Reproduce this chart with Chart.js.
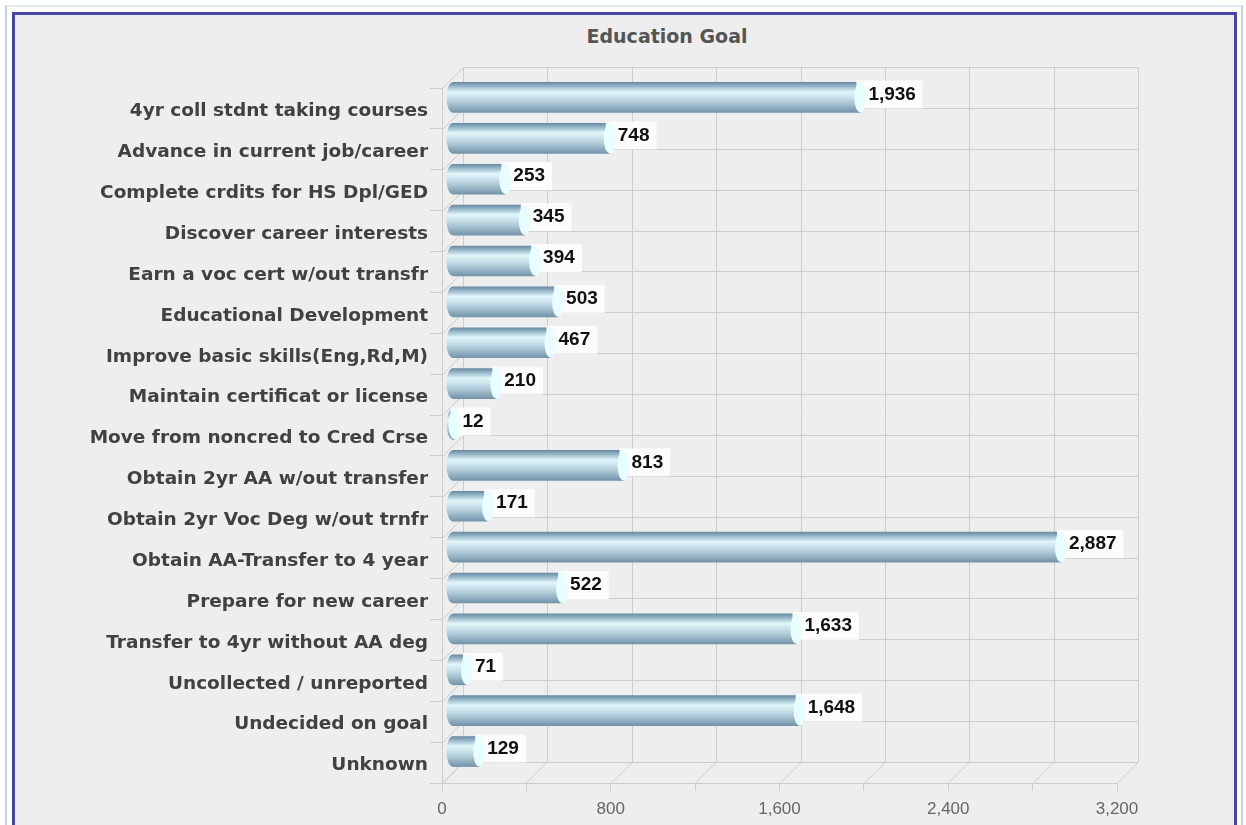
<!DOCTYPE html>
<html lang="en">
<head>
  <meta charset="UTF-8">
  <title>Education Goal</title>
  <script src="https://cdn.jsdelivr.net/npm/chart.js"></script>
  <style>
body {
  margin: 0;
  background-color: #ffffff;
  width: 1246px;
  height: 825px;
  overflow: hidden;
  position: relative;
}

.frame {
  position: absolute;
  left: 5px;
  top: 5px;
  width: 1234px;
  height: 840px;
  border-left: 2px solid #bfd1e8;
  border-top: 2px solid #e1e7ef;
  border-right: 2px solid #bfd1e8;
}

.panel {
  position: absolute;
  left: 12px;
  top: 12px;
  width: 1219px;
  height: 840px;
  border: 3px solid #4747a9;
  background-color: #eeeeee;
}

.title {
  position: absolute;
  left: 467px;
  width: 400px;
  top: 25px;
  text-align: center;
  font-family: "DejaVu Sans", sans-serif;
  font-weight: bold;
  font-size: 19px;
  color: #555555;
}

canvas {
  position: absolute;
  left: 0;
  top: 0;
}
  </style>
</head>
<body>
  <div class="frame"></div>
  <div class="panel"></div>
  <div class="title">Education Goal</div>
  <canvas id="goalChart" width="1246" height="825"></canvas>
  <script>
    var goals = [
      '4yr coll stdnt taking courses',
      'Advance in current job/career',
      'Complete crdits for HS Dpl/GED',
      'Discover career interests',
      'Earn a voc cert w/out transfr',
      'Educational Development',
      'Improve basic skills(Eng,Rd,M)',
      'Maintain certificat or license',
      'Move from noncred to Cred Crse',
      'Obtain 2yr AA w/out transfer',
      'Obtain 2yr Voc Deg w/out trnfr',
      'Obtain AA-Transfer to 4 year',
      'Prepare for new career',
      'Transfer to 4yr without AA deg',
      'Uncollected / unreported',
      'Undecided on goal',
      'Unknown'
    ];
    var students = [1936, 748, 253, 345, 394, 503, 467, 210, 12, 813, 171, 2887, 522, 1633, 71, 1648, 129];
    var axisMax = 3200;
    var axisStep = 400;
    var labelStep = 800;

    // fake 3D depth: back wall offset and bar offset
    var depthX = 21, depthY = -21;
    var barDX = 10, barDY = -11;
    var barSize = 30;
    var gridColor = '#cccccc';

    function barGradient(c) {
      var chart = c.chart;
      if (!chart.chartArea || !chart.scales.y) return '#a9c5d3';
      var yc = chart.scales.y.getPixelForValue(c.dataIndex);
      var g = chart.ctx.createLinearGradient(0, yc - barSize / 2, 0, yc + barSize / 2);
      g.addColorStop(0, '#6a8ba3');
      g.addColorStop(0.12, '#93b3c6');
      g.addColorStop(0.32, '#e0f6fa');
      g.addColorStop(0.5, '#c9e1ea');
      g.addColorStop(0.72, '#a6c2d1');
      g.addColorStop(0.9, '#85a4b8');
      g.addColorStop(1, '#7393aa');
      return g;
    }

    var depthPlugin = {
      id: 'depth',
      beforeDatasetsDraw: function(chart) {
        var ctx = chart.ctx;
        var xs = chart.scales.x;
        var ca = chart.chartArea;
        var band = (ca.bottom - ca.top) / goals.length;
        ctx.save();
        ctx.strokeStyle = gridColor;
        ctx.lineWidth = 1;
        ctx.beginPath();
        // back wall verticals and floor diagonals
        for (var v = 0; v <= axisMax; v += axisStep) {
          var px = Math.round(xs.getPixelForValue(v)) + 0.5;
          ctx.moveTo(px + depthX, ca.top + depthY);
          ctx.lineTo(px + depthX, ca.bottom + depthY);
          ctx.moveTo(px, ca.bottom);
          ctx.lineTo(px + depthX, ca.bottom + depthY);
        }
        // back wall horizontals and left wall diagonals
        var x0 = Math.round(xs.getPixelForValue(0)) + 0.5;
        var x1 = Math.round(xs.getPixelForValue(axisMax)) + 0.5;
        for (var i = 0; i <= goals.length; i++) {
          var py = Math.round(ca.top + band * i) + 0.5;
          ctx.moveTo(x0 + depthX, py + depthY);
          ctx.lineTo(x1 + depthX, py + depthY);
          ctx.moveTo(x0, py);
          ctx.lineTo(x0 + depthX, py + depthY);
        }
        ctx.stroke();
        ctx.restore();

        ctx.save();
        ctx.translate(barDX, barDY);
        // rounded start of each cylinder
        var meta = chart.getDatasetMeta(0);
        meta.data.forEach(function(bar, idx) {
          var p = bar.getProps(['x', 'y', 'base', 'height'], true);
          ctx.beginPath();
          ctx.ellipse(p.base, p.y, 6, p.height / 2, 0, 0, Math.PI * 2);
          ctx.fillStyle = barGradient({ chart: chart, dataIndex: idx });
          ctx.fill();
        });
      },
      afterDatasetsDraw: function(chart) {
        var ctx = chart.ctx;
        var meta = chart.getDatasetMeta(0);
        ctx.font = 'bold 19px "Liberation Sans", Arial, sans-serif';
        ctx.textBaseline = 'middle';
        ctx.textAlign = 'left';
        meta.data.forEach(function(bar, idx) {
          var p = bar.getProps(['x', 'y', 'base', 'height'], true);
          var txt = students[idx].toLocaleString('en-US');
          var tw = ctx.measureText(txt).width;
          var top = p.y - p.height / 2 - 2;
          // value box
          ctx.fillStyle = 'rgba(252,252,252,0.95)';
          ctx.fillRect(p.x - 4, top, tw + 19, 28);
          // end face of the cylinder
          ctx.beginPath();
          ctx.ellipse(p.x, p.y, 6, p.height / 2, 0, 0, Math.PI * 2);
          ctx.fillStyle = '#e8fdff';
          ctx.fill();
          ctx.fillStyle = '#111111';
          ctx.fillText(txt, p.x + 8, top + 14);
        });
        ctx.restore();
      }
    };

    var ctx = document.getElementById('goalChart').getContext('2d');
    var chart = new Chart(ctx, {
      type: 'bar',
      data: {
        labels: goals,
        datasets: [{
          label: 'Education Goal',
          data: students,
          backgroundColor: barGradient,
          borderWidth: 0,
          barThickness: barSize,
          clip: false
        }]
      },
      options: {
        indexAxis: 'y',
        responsive: false,
        animation: false,
        layout: {
          padding: { top: 88, right: 129, left: 0, bottom: 0 }
        },
        plugins: {
          legend: { display: false },
          tooltip: { enabled: false },
          title: { display: false }
        },
        scales: {
          x: {
            type: 'linear',
            min: 0,
            max: axisMax,
            afterFit: function(scale) { scale.height = 42; },
            grid: {
              drawOnChartArea: false,
              drawTicks: true,
              tickLength: 8,
              color: gridColor
            },
            border: { color: gridColor },
            ticks: {
              stepSize: axisStep,
              autoSkip: false,
              maxRotation: 0,
              padding: 8,
              color: '#666666',
              font: { family: '"Liberation Sans", Arial, sans-serif', size: 17 },
              callback: function(v) {
                return v % labelStep === 0 ? v.toLocaleString('en-US') : '';
              }
            }
          },
          y: {
            afterFit: function(scale) { scale.width = 442; },
            grid: {
              drawOnChartArea: false,
              drawTicks: true,
              tickLength: 12,
              offset: true,
              color: gridColor
            },
            border: { color: gridColor },
            ticks: {
              autoSkip: false,
              padding: 2,
              labelOffset: 3,
              color: '#414141',
              font: { family: '"DejaVu Sans", sans-serif', size: 18.5, weight: 'bold' }
            }
          }
        }
      },
      plugins: [depthPlugin]
    });
  </script>
</body>
</html>
